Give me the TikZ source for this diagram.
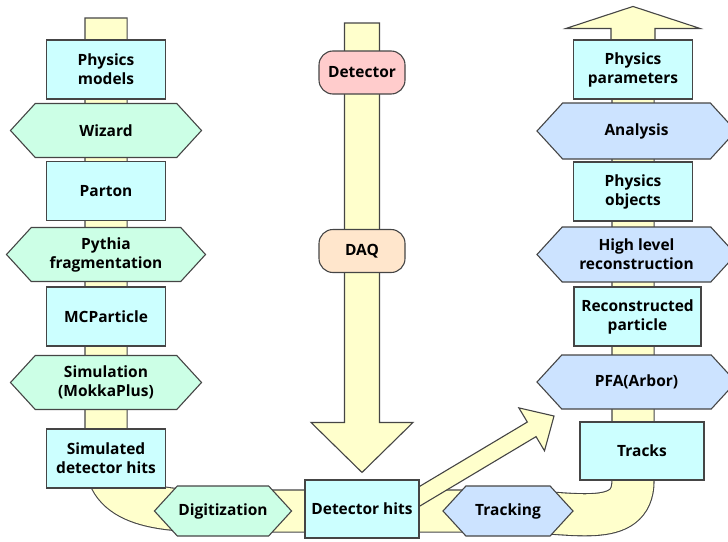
\documentclass[tikz,border=0pt]{standalone}
\usepackage{fontspec}
\setmainfont{Open Sans}
\usetikzlibrary{shapes.symbols, calc, backgrounds}

\definecolor{edgegray}{HTML}{454545}
\definecolor{pipefill}{HTML}{FFFFCC}
\definecolor{boxcyan}{HTML}{CCFFFF}
\definecolor{hexgreen}{HTML}{CCFFE6}
\definecolor{hexblue}{HTML}{CCE3FF}
\definecolor{detpink}{HTML}{FFCCCC}
\definecolor{daqpeach}{HTML}{FFE6CC}

% fat arrow: start, tip, shaft half width, head half width, head length
\newcommand\flowarrow[5]{%
    \coordinate (fa head) at ($(#2)!#5!(#1)$);
    \draw[fat arrow] ($(#1)!#3!90:(#2)$) -- ($(fa head)!#3!90:(#2)$) -- ($(fa head)!#4!90:(#2)$) -- (#2)
        -- ($(fa head)!#4!-90:(#2)$) -- ($(fa head)!#3!-90:(#2)$) -- ($(#1)!#3!-90:(#2)$) -- cycle;
}

\begin{document}
\begin{tikzpicture}[x=1pt, y=-1pt]
    \tikzset{
        edge/.style={draw=edgegray, line width=1.1pt},
        label font/.style={font=\fontsize{15.5}{19}\selectfont\bfseries},
        databox/.style={rectangle, edge, fill=boxcyan, minimum width=119pt, minimum height=59pt,
                align=center, inner sep=1pt, label font},
        stephex/.style={signal, signal to=west and east, signal pointer angle=95, edge,
                minimum width=195pt, minimum height=54pt, align=center, inner sep=1pt, label font},
        genhex/.style={stephex, fill=hexgreen},
        recohex/.style={stephex, fill=hexblue},
        hwbox/.style={rectangle, rounded corners=14pt, edge, minimum width=86pt, minimum height=43pt, label font},
        pipe/.style={draw=edgegray, line width=1.1pt, double=pipefill, double distance=41pt, line cap=rect},
        fat arrow/.style={edge, fill=pipefill, line join=miter}
    }
    \useasboundingbox (0,0) rectangle (728,541);

    % generation chain
    \node[databox] (models) at (106,69.5) {Physics\\models};
    \node[genhex, minimum width=191pt] (wizard) at (106,130.5) {Wizard};
    \node[databox] (parton) at (106,191) {Parton};
    \node[genhex, minimum width=199pt] (pythia) at (106,254.5) {Pythia\\fragmentation};
    \node[databox] (mcparticle) at (106,316.5) {MCParticle};
    \node[genhex, minimum width=191pt] (simulation) at (106,382.5) {Simulation\\(MokkaPlus)};
    \node[databox] (simhits) at (106,458.5) {Simulated\\detector hits};

    % hardware chain
    \node[hwbox, fill=detpink] (detector) at (362,72.5) {Detector};
    \node[hwbox, fill=daqpeach] (daq) at (362,251) {DAQ};

    % bottom row
    \node[genhex, minimum width=130pt, minimum height=50pt] (digitization) at (223,511) {Digitization};
    \node[databox, minimum width=114pt, minimum height=58pt] (dethits) at (362,509) {Detector hits};
    \node[recohex, minimum width=130pt, minimum height=50pt] (tracking) at (508,511) {Tracking};

    % reconstruction chain
    \node[databox, minimum width=124pt, minimum height=58pt] (tracks) at (642,451) {Tracks};
    \node[recohex, minimum width=199pt] (pfa) at (636.5,382) {PFA(Arbor)};
    \node[databox, minimum width=127pt] (recparticle) at (637.5,316.5) {Reconstructed\\particle};
    \node[recohex, minimum width=199pt, minimum height=55pt] (highlevel) at (636.5,254.5) {High level\\reconstruction};
    \node[databox] (objects) at (633,191.5) {Physics\\objects};
    \node[recohex, minimum width=199pt, minimum height=56pt] (analysis) at (636.5,131) {Analysis};
    \node[databox] (params) at (633,69.5) {Physics\\parameters};

    \coordinate (gen top) at (106,39);
    \coordinate (det feed) at (362,23);
    \coordinate (det tip) at ($(dethits.north)+(0,-7)$);
    \coordinate (diag feed) at (400,508);
    \coordinate (diag tip) at (554,416);
    \coordinate (out tip) at ($(params.north)+(0,-33)$);

    \begin{scope}[on background layer]
        \draw[pipe] (gen top) -- (simhits.center) .. controls +(0,52) and +(-50,0) .. (digitization.center)
            -- (tracking.center) .. controls +(62,0) and +(0,50) .. (tracks.south -| params.center) -- (params.center);
        \flowarrow{det feed}{det tip}{17.5pt}{51pt}{50pt}
        \flowarrow{diag feed}{diag tip}{8.5pt}{25pt}{26pt}
        \flowarrow{params.center}{out tip}{22pt}{67pt}{22pt}
    \end{scope}
\end{tikzpicture}
\end{document}
